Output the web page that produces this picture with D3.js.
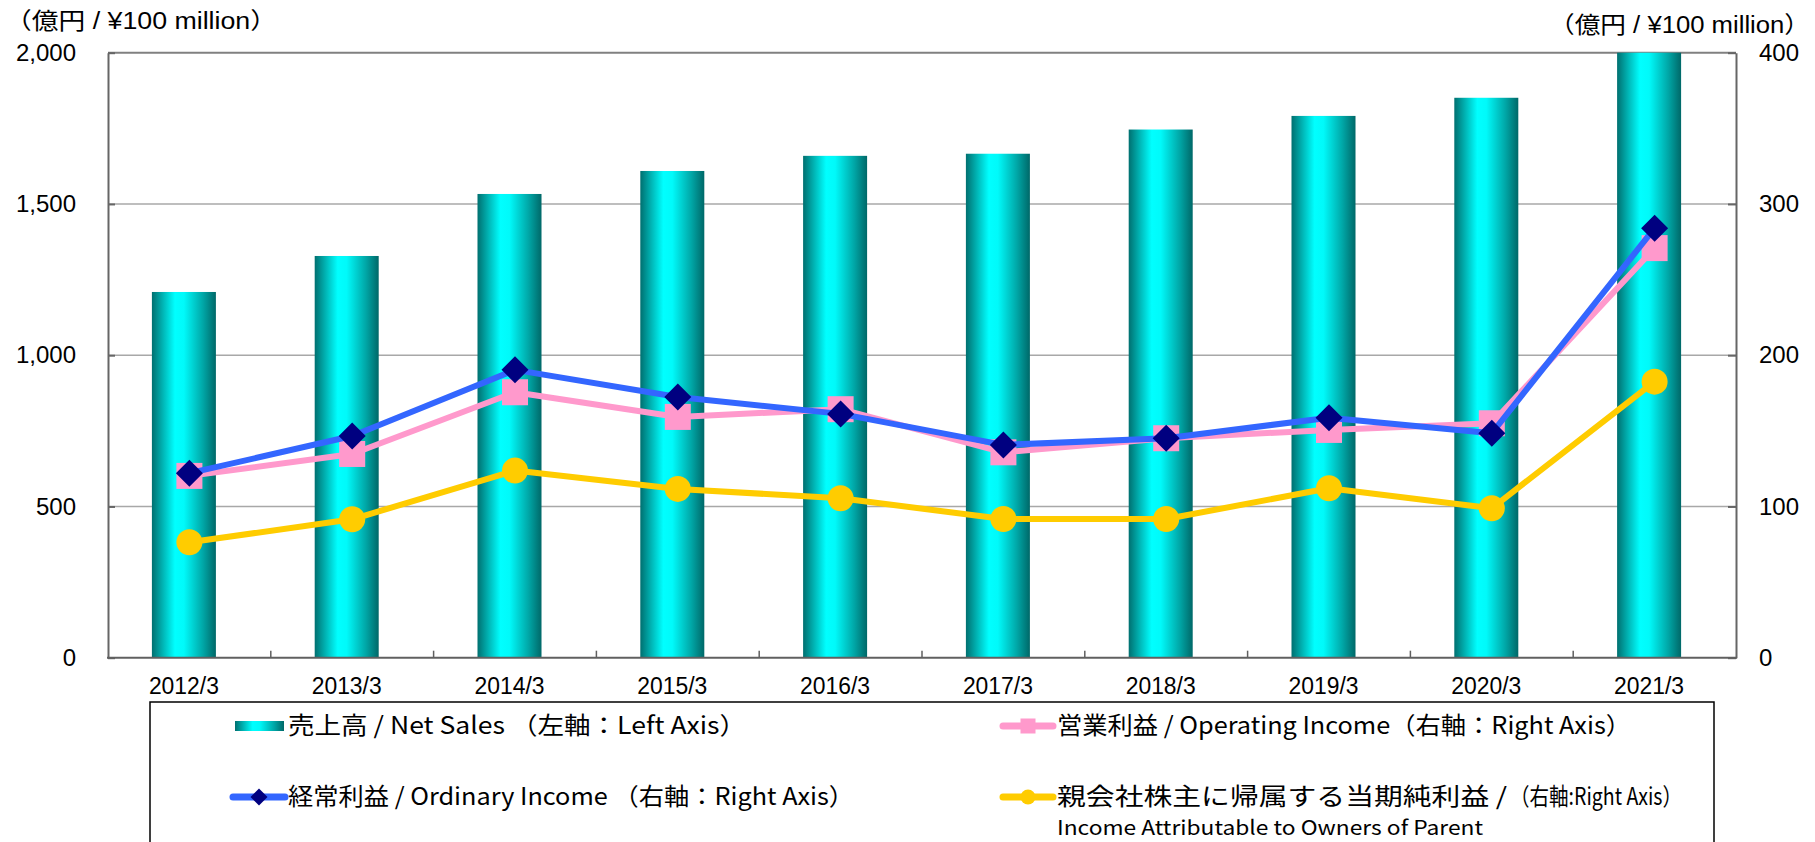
<!DOCTYPE html>
<html lang="ja">
<head>
<meta charset="UTF-8">
<title>Net Sales and Income</title>
<script src="https://d3js.org/d3.v7.min.js"></script>
<style>
  body { margin: 0; background: #fff; }
  svg { display: block; }
  .tick text { font-family: "Liberation Sans", Arial, sans-serif; font-size: 24px; fill: #000; }
  .axis path, .axis line { stroke: #666; }
</style>
</head>
<body>
<svg id="chart" width="1815" height="842"></svg>
<script>
// data (億円 / ¥100 million)
const years = ["2012/3", "2013/3", "2014/3", "2015/3", "2016/3", "2017/3", "2018/3", "2019/3", "2020/3", "2021/3"];
const netSales = [1209, 1328, 1533, 1609, 1659, 1666, 1746, 1791, 1851, 2000];
const operatingIncome = [120.2, 134.7, 175.5, 159.2, 164.3, 135.8, 145.1, 150.6, 155.0, 270.8];
const ordinaryIncome = [122.0, 146.6, 190.3, 172.4, 161.2, 140.7, 145.1, 158.7, 148.4, 284.0];
const netIncome = [76.3, 91.5, 123.7, 111.6, 105.4, 91.7, 91.7, 112.0, 98.8, 182.5];
const leftTicks = [0, 500, 1000, 1500, 2000];
const rightTicks = [0, 100, 200, 300, 400];

const svg = d3.select("#chart");
const plot = { left: 108, right: 1736, top: 52.7, bottom: 657.7 };

const x = d3.scaleBand().domain(years).range([plot.left, plot.right]).padding(0);
const yL = d3.scaleLinear().domain([0, 2000]).range([plot.bottom, plot.top]);
const yR = d3.scaleLinear().domain([0, 400]).range([plot.bottom, plot.top]);
const cx = d => x(d) + x.bandwidth() / 2;
const barW = 64, barShift = -5.5;

// bar gradient
const defs = svg.append("defs");
const grad = defs.append("linearGradient").attr("id", "barGrad")
  .attr("x1", "0%").attr("x2", "100%").attr("y1", "0%").attr("y2", "0%");
[[0, "#007070"], [0.14, "#00a8a8"], [0.36, "#00ffff"], [0.5, "#00fafa"], [0.8, "#00a6a6"], [1, "#006868"]]
  .forEach(s => grad.append("stop").attr("offset", s[0]).attr("stop-color", s[1]));

// gridlines
svg.append("g").selectAll("line")
  .data(leftTicks.filter(t => t > 0 && t < 2000))
  .join("line")
  .attr("x1", plot.left).attr("x2", plot.right)
  .attr("y1", d => yL(d)).attr("y2", d => yL(d))
  .attr("stroke", "#a8a8a8").attr("stroke-width", 1.5);

// top border
svg.append("line")
  .attr("x1", plot.left).attr("x2", plot.right)
  .attr("y1", plot.top).attr("y2", plot.top)
  .attr("stroke", "#808080").attr("stroke-width", 2);

// bars
svg.append("g").selectAll("rect")
  .data(years)
  .join("rect")
  .attr("x", (d, i) => cx(d) + barShift - barW / 2)
  .attr("width", barW)
  .attr("y", (d, i) => yL(Math.min(netSales[i], 2000)))
  .attr("height", (d, i) => yL(0) - yL(Math.min(netSales[i], 2000)))
  .attr("fill", "url(#barGrad)");

// axes
const axL = svg.append("g").attr("class", "axis")
  .attr("transform", `translate(${plot.left},0)`)
  .call(d3.axisLeft(yL).tickValues(leftTicks).tickFormat(d3.format(",")).tickSize(-7).tickPadding(32).tickSizeOuter(0));
const axR = svg.append("g").attr("class", "axis")
  .attr("transform", `translate(${plot.right},0)`)
  .call(d3.axisRight(yR).tickValues(rightTicks).tickSize(-8).tickPadding(23).tickSizeOuter(0));
[axL, axR].forEach(a => {
  a.select(".domain").attr("stroke", "#606060").attr("stroke-width", 2);
  a.selectAll(".tick line").attr("stroke", "#606060").attr("stroke-width", 2);
});

// x axis
svg.append("line")
  .attr("x1", plot.left - 1).attr("x2", plot.right + 1)
  .attr("y1", plot.bottom).attr("y2", plot.bottom)
  .attr("stroke", "#606060").attr("stroke-width", 2);
svg.append("g").selectAll("line")
  .data(years.slice(1))
  .join("line")
  .attr("x1", d => x(d)).attr("x2", d => x(d))
  .attr("y1", plot.bottom).attr("y2", plot.bottom - 7)
  .attr("stroke", "#606060").attr("stroke-width", 1.5);
svg.append("g").selectAll("text")
  .data(years)
  .join("text")
  .attr("x", d => cx(d) + barShift - 35)
  .attr("y", 686)
  .attr("dy", "0.35em")
  .attr("font-family", "Liberation Sans, Arial, sans-serif")
  .attr("font-size", 23)
  .attr("textLength", 70).attr("lengthAdjust", "spacingAndGlyphs")
  .text(d => d);

// unit labels
svg.append("text").attr("x", 5).attr("y", 21).attr("dy", "0.35em")
  .attr("font-family", "Liberation Sans, Noto Sans CJK JP, sans-serif").attr("font-size", 23)
  .attr("textLength", 272).attr("lengthAdjust", "spacingAndGlyphs")
  .text("（億円 / ¥100 million）");
svg.append("text").attr("x", 1549).attr("y", 25).attr("dy", "0.35em")
  .attr("font-family", "Liberation Sans, Noto Sans CJK JP, sans-serif").attr("font-size", 23)
  .attr("textLength", 261).attr("lengthAdjust", "spacingAndGlyphs")
  .text("（億円 / ¥100 million）");

// lines
const series = [
  { values: operatingIncome, color: "#ff99cc", marker: "square" },
  { values: ordinaryIncome, color: "#3366ff", marker: "diamond", markerColor: "#000080" },
  { values: netIncome, color: "#ffcc00", marker: "circle" }
];
const line = d3.line().x(d => cx(d.year)).y(d => yR(d.v));

function drawMarker(g, type, fill, size) {
  if (type === "square") {
    g.append("rect").attr("x", -size / 2).attr("y", -size / 2).attr("width", size).attr("height", size).attr("fill", fill);
  } else if (type === "diamond") {
    const h = size / 2;
    g.append("path").attr("d", `M0,${-h}L${h},0L0,${h}L${-h},0Z`).attr("fill", fill);
  } else {
    g.append("circle").attr("r", size / 2).attr("fill", fill);
  }
}

series.forEach(s => {
  const pts = years.map((y, i) => ({ year: y, v: s.values[i] }));
  svg.append("path").datum(pts)
    .attr("d", line).attr("fill", "none")
    .attr("stroke", s.color).attr("stroke-width", 6).attr("stroke-linejoin", "round");
  svg.append("g").selectAll("g")
    .data(pts).join("g")
    .attr("transform", d => `translate(${cx(d.year)},${yR(d.v)})`)
    .each(function () { drawMarker(d3.select(this), s.marker, s.markerColor || s.color, s.marker === "diamond" ? 27 : 26); });
});

// legend
svg.append("rect")
  .attr("x", 150).attr("y", 702).attr("width", 1564).attr("height", 170)
  .attr("fill", "none").attr("stroke", "#000").attr("stroke-width", 1.5);

const legendFont = "Noto Sans CJK JP, sans-serif";
function legendText(tx, ty, str, len, size) {
  svg.append("text").attr("x", tx).attr("y", ty).attr("dy", "0.35em")
    .attr("font-family", legendFont).attr("font-size", size || 24)
    .attr("textLength", len).attr("lengthAdjust", "spacingAndGlyphs")
    .text(str);
}
function legendLine(x1, x2, ly, color, marker, markerColor, size) {
  svg.append("line").attr("x1", x1).attr("x2", x2).attr("y1", ly).attr("y2", ly)
    .attr("stroke", color).attr("stroke-width", 7).attr("stroke-linecap", "round");
  const g = svg.append("g").attr("transform", `translate(${(x1 + x2) / 2},${ly})`);
  drawMarker(g, marker, markerColor, size);
}

svg.append("rect").attr("x", 235).attr("y", 721).attr("width", 49).attr("height", 10).attr("fill", "url(#barGrad)");
legendText(288, 726, "売上高 / Net Sales （左軸：Left Axis）", 458);
legendLine(233, 285, 797, "#3366ff", "diamond", "#000080", 17);
legendText(288, 797, "経常利益 / Ordinary Income （右軸：Right Axis）", 566);
legendLine(1003, 1053, 726, "#ff99cc", "square", "#ff99cc", 15);
legendText(1057, 726, "営業利益 / Operating Income（右軸：Right Axis）", 574);
legendLine(1003, 1053, 797, "#ffcc00", "circle", "#ffcc00", 15);
legendText(1057, 797, "親会社株主に帰属する当期純利益 /", 450);
legendText(1510, 797, "（右軸:Right Axis）", 172);
legendText(1057, 828, "Income Attributable to Owners of Parent", 426, 20);
</script>
</body>
</html>
